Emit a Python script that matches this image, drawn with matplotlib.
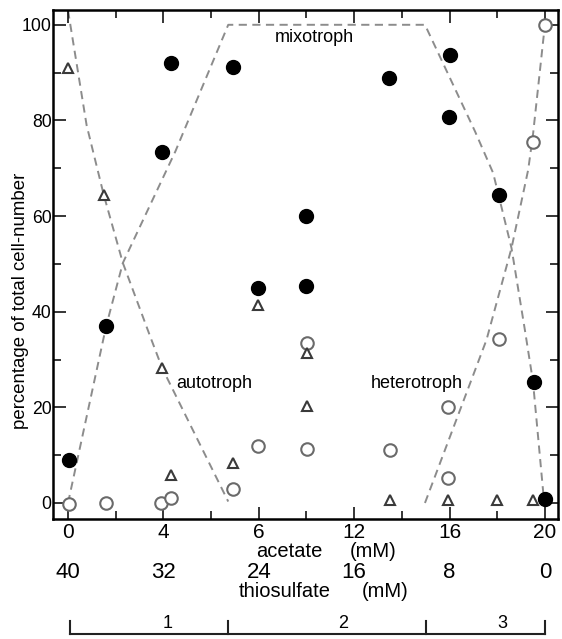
import numpy as np
import matplotlib
matplotlib.use('Agg')
import matplotlib.pyplot as plt
from matplotlib.transforms import blended_transform_factory

plt.rcParams['font.family'] = ['Liberation Sans', 'DejaVu Sans']

# -- Data ---------------------------------------------------------------------
# x = position along the acetate axis (one minor tick = 2 units)
mixo_x = [0.05, 1.6, 3.95, 4.3, 6.9, 7.95, 10.0, 10.0, 13.47, 16.0, 15.98, 18.07, 19.55, 20.0]
mixo_y = [9.0, 37.0, 73.5, 92.0, 91.1, 45.0, 60.0, 45.3, 88.8, 93.7, 80.7, 64.4, 25.2, 0.8]

auto_x = [0.0, 1.52, 3.95, 4.3, 6.93, 7.95, 10.03, 10.03, 13.5, 15.95, 18.0, 19.5]
auto_y = [90.9, 64.4, 28.2, 5.9, 8.4, 41.4, 31.3, 20.3, 0.6, 0.6, 0.6, 0.6]

hetero_x = [0.05, 1.6, 3.9, 4.3, 6.93, 7.95, 10.03, 10.03, 13.5, 15.95, 15.95, 18.08, 19.5, 20.0]
hetero_y = [-0.3, 0.0, 0.0, 1.0, 2.9, 12.0, 33.4, 11.2, 11.1, 20.0, 5.3, 34.2, 75.4, 100.0]

# hand-drawn trend lines (dashed)
mixo_line_x = [0.0, 1.6, 2.3, 4.5, 6.72, 14.97, 17.07, 17.83, 18.6, 19.16, 19.5, 19.96]
mixo_line_y = [0.0, 37.0, 50.2, 73.5, 100.0, 100.0, 77.7, 69.0, 53.3, 36.2, 25.4, 0.6]
auto_line_x = [0.0, 0.78, 1.5, 2.3, 3.44, 3.95, 6.72]
auto_line_y = [103.0, 79.0, 64.4, 50.2, 34.9, 28.2, 0.3]
hetero_line_x = [14.97, 17.55, 18.6, 19.3, 19.5, 20.0]
hetero_line_y = [0.0, 34.1, 53.3, 69.7, 77.0, 100.0]

acetate_ticks = [0, 4, 8, 12, 16, 20]
acetate_labels = ['0', '4', '6', '12', '16', '20']
thio_labels = ['40', '32', '24', '16', '8', '0']

phase_edges = [0.08, 6.7, 15.0, 20.0]
phase_label_x = [4.19, 11.53, 18.2]
phase_labels = ['1', '2', '3']

# -- Figure -------------------------------------------------------------------
fig = plt.figure(figsize=(5.62, 6.39), dpi=100)
ax = fig.add_axes([0.0943, 0.1878, 0.8986, 0.7966])

dash_kw = dict(color='#8c8c8c', lw=1.4, dashes=(4.2, 2.8), zorder=1)
ax.plot(mixo_line_x, mixo_line_y, **dash_kw)
ax.plot(auto_line_x, auto_line_y, **dash_kw)
ax.plot(hetero_line_x, hetero_line_y, **dash_kw)

ax.plot(hetero_x, hetero_y, 'o', ms=9.0, mfc='white', mec='#6a6a6a', mew=1.5, zorder=3)
ax.plot(auto_x, auto_y, '^', ms=7.5, mfc='white', mec='#3a3a3a', mew=1.5, zorder=3)
ax.plot(mixo_x, mixo_y, 'o', ms=10, mfc='black', mec='black', zorder=4)

ax.text(8.68, 97.3, 'mixotroph', fontsize=13, va='center', ha='left')
ax.text(4.53, 25.0, 'autotroph', fontsize=13, va='center', ha='left')
ax.text(12.69, 25.0, 'heterotroph', fontsize=13, va='center', ha='left')

ax.set_xlim(-0.63, 20.55)
ax.set_ylim(-3.35, 103.1)

ax.set_xticks(acetate_ticks)
ax.set_xticklabels(acetate_labels, fontsize=15)
ax.set_xticks(np.arange(0, 21, 2), minor=True)
ax.set_yticks([0, 20, 40, 60, 80, 100])
ax.set_yticks(np.arange(0, 101, 10), minor=True)
ax.tick_params(axis='y', labelsize=12.7, pad=1)
ax.tick_params(which='both', direction='in', top=True, right=True, width=1.1)
ax.tick_params(which='major', length=9)
ax.tick_params(which='minor', length=6)
ax.tick_params(axis='x', pad=3)
for s in ax.spines.values():
    s.set_linewidth(1.8)

# -- Labels below the axes ------------------------------------------------------
trans = blended_transform_factory(ax.transData, fig.transFigure)
for xpos, lab in zip(acetate_ticks, thio_labels):
    fig.text(xpos, 1 - 573 / 639, lab, transform=trans, fontsize=16, ha='center', va='center')

fig.text(7.91, 1 - 551.7 / 639, 'acetate', transform=trans, fontsize=14.5, ha='left', va='center')
fig.text(11.82, 1 - 551.7 / 639, '(mM)', transform=trans, fontsize=14.5, ha='left', va='center')
fig.text(7.17, 1 - 591.7 / 639, 'thiosulfate', transform=trans, fontsize=14.5, ha='left', va='center')
fig.text(12.31, 1 - 591.7 / 639, '(mM)', transform=trans, fontsize=14.5, ha='left', va='center')

fig.text(21 / 562, 1 - 301 / 639, 'percentage of total cell-number', rotation=90,
         fontsize=13.4, ha='center', va='center')

# phase bracket
y_line = 1 - 634 / 639
y_tick = 1 - 621 / 639
ax.plot([phase_edges[0], phase_edges[-1]], [y_line, y_line], transform=trans,
        color='#222222', lw=1.5, clip_on=False)
for xe in phase_edges:
    ax.plot([xe, xe], [y_line, y_tick], transform=trans, color='#222222', lw=1.5, clip_on=False)
for xl, lab in zip(phase_label_x, phase_labels):
    fig.text(xl, 1 - 623 / 639, lab, transform=trans, fontsize=13, ha='center', va='center')

fig.savefig('out.png', dpi=100)
